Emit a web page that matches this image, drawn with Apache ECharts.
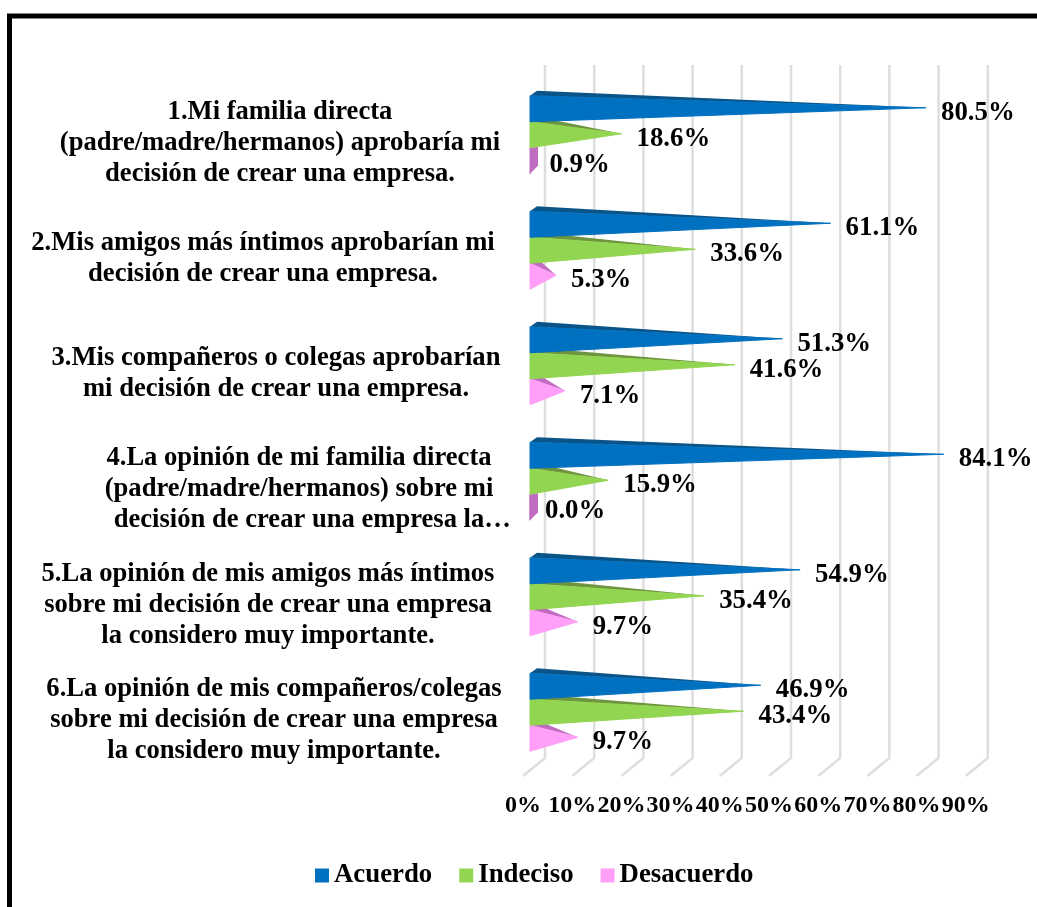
<!DOCTYPE html>
<html>
<head>
<meta charset="utf-8">
<style>
html, body { margin: 0; padding: 0; background: #fff; overflow: hidden; }
#chart { width: 1037px; height: 907px; }
</style>
<script src="https://cdn.jsdelivr.net/npm/echarts@6/dist/echarts.min.js"></script>
</head>
<body>
<div id="chart"></div>
<script>
var categories = [
    ['1.Mi familia directa', '(padre/madre/hermanos) aprobaría mi', 'decisión de crear una empresa.'],
    ['2.Mis amigos más íntimos aprobarían mi', 'decisión de crear una empresa.'],
    ['3.Mis compañeros o colegas aprobarían', 'mi decisión de crear una empresa.'],
    ['4.La opinión de mi familia directa', '(padre/madre/hermanos) sobre mi', '\u00a0\u00a0\u00a0\u00a0decisión de crear una empresa la…'],
    ['5.La opinión de mis amigos más íntimos', 'sobre mi decisión de crear una empresa', 'la considero muy importante.'],
    ['6.La opinión de mis compañeros/colegas', 'sobre mi decisión de crear una empresa', 'la considero muy importante.']
];
var acuerdo = [80.5, 61.1, 51.3, 84.1, 54.9, 46.9];
var indeciso = [18.6, 33.6, 41.6, 15.9, 35.4, 43.4];
var desacuerdo = [0.9, 5.3, 7.1, 0.0, 9.7, 9.7];
var ticks = [0, 10, 20, 30, 40, 50, 60, 70, 80, 90];

// centro horizontal de cada bloque de texto
var labelCenters = [280, 263, 276, 299, 268, 274];

var FONT = '"Liberation Serif", "Times New Roman", serif';
var chart = echarts.init(document.getElementById('chart'));

// conos: triangulo frontal mas la cara oscura de arriba
function coneSeries(name, values, color, dark, slot) {
    return {
        name: name,
        type: 'custom',
        xAxisIndex: 1,
        yAxisIndex: 1,
        z: 6 - slot,
        itemStyle: { color: color },
        encode: { x: 0, y: 1 },
        data: values.map(function (v, i) { return [v, i]; }),
        clip: false,
        renderItem: function (params, api) {
            var v = api.value(0);
            var p = api.coord([v, api.value(1)]);
            var x0 = api.coord([0, api.value(1)])[0];
            var top = p[1] - 39 + slot * 26;
            var bot = top + 26;
            var mid = top + 13;
            var stub = v < 2;
            var shade = stub
                ? [[x0, top], [x0 + 8, top - 1], [x0 + 8, bot - 8], [x0, bot]]
                : [[x0, top], [x0 + 7, top - 5], [p[0], mid - 1]];
            var front = stub
                ? [[x0, top], [p[0], mid], [x0, bot]]
                : [[x0, top], [p[0], mid - 1], [x0, bot]];
            var fill = stub ? dark : color;
            return {
                type: 'group',
                children: [
                    { type: 'polygon', shape: { points: shade }, style: { fill: dark } },
                    { type: 'polygon', shape: { points: front }, style: { fill: fill, stroke: fill, lineWidth: 1 } },
                    {
                        type: 'text',
                        x: p[0] + 15,
                        y: mid + 4,
                        style: {
                            text: v.toFixed(1) + '%',
                            font: 'bold 26.8px ' + FONT,
                            fill: '#000',
                            textAlign: 'left',
                            textVerticalAlign: 'middle'
                        }
                    }
                ]
            };
        }
    };
}

chart.setOption({
    backgroundColor: '#fff',
    animation: false,
    graphic: [{
        type: 'rect',
        shape: { x: 9.5, y: 16, width: 1100, height: 1000 },
        style: { fill: 'none', stroke: '#000', lineWidth: 5 },
        silent: true
    }],
    legend: {
        left: 310,
        top: 857,
        itemWidth: 14,
        itemHeight: 14,
        itemGap: 27,
        icon: 'rect',
        textStyle: { fontFamily: FONT, fontWeight: 'bold', fontSize: 26.8, color: '#000' },
        data: ['Acuerdo', 'Indeciso', 'Desacuerdo']
    },
    grid: [
        // pared y piso
        { left: 523, top: 65, width: 442.8, height: 711 },
        // conos
        { left: 530, top: 77, width: 442.8, height: 693 }
    ],
    xAxis: [{
        type: 'value',
        gridIndex: 0,
        min: 0,
        max: 90,
        interval: 10,
        axisLine: { show: false },
        axisTick: { show: false },
        splitLine: { show: false },
        axisLabel: {
            margin: 18,
            hideOverlap: false,
            fontFamily: FONT,
            fontWeight: 'bold',
            fontSize: 24,
            color: '#000',
            formatter: '{value}%'
        }
    }, {
        type: 'value',
        gridIndex: 1,
        min: 0,
        max: 90,
        show: false
    }],
    yAxis: [{
        type: 'value',
        gridIndex: 0,
        min: 0,
        max: 1,
        show: false
    }, {
        type: 'category',
        gridIndex: 1,
        inverse: true,
        data: categories.map(function (c) { return c.join(' '); }),
        show: false
    }],
    series: [{
        type: 'custom',
        xAxisIndex: 0,
        yAxisIndex: 0,
        z: 1,
        silent: true,
        clip: false,
        data: ticks.map(function (t) { return [t, 0]; }),
        encode: { x: 0, y: 1 },
        renderItem: function (params, api) {
            var a = api.coord([api.value(0), 0]);
            var b = api.coord([api.value(0), 1]);
            return {
                type: 'polyline',
                shape: { points: [[a[0], a[1]], [a[0] + 22, a[1] - 18], [b[0] + 22, b[1]]] },
                style: { stroke: '#dedede', lineWidth: 2.5, fill: 'none' }
            };
        }
    }, {
        type: 'custom',
        xAxisIndex: 1,
        yAxisIndex: 1,
        z: 2,
        silent: true,
        clip: false,
        data: categories.map(function (c, i) { return [0, i]; }),
        encode: { x: 0, y: 1 },
        renderItem: function (params, api) {
            var i = api.value(1);
            var p = api.coord([0, i]);
            return {
                type: 'text',
                x: labelCenters[i],
                y: p[1] + 8,
                style: {
                    text: categories[i].join('\n'),
                    font: 'bold 26.6px ' + FONT,
                    lineHeight: 31,
                    fill: '#000',
                    textAlign: 'center',
                    textVerticalAlign: 'middle'
                }
            };
        }
    },
        coneSeries('Acuerdo', acuerdo, '#0070c0', '#0a5488', 0),
        coneSeries('Indeciso', indeciso, '#92d550', '#6f9440', 1),
        coneSeries('Desacuerdo', desacuerdo, '#ff9ff8', '#c06cc0', 2)
    ]
});

window.addEventListener('resize', function () {
    chart.resize();
});
</script>
</body>
</html>
